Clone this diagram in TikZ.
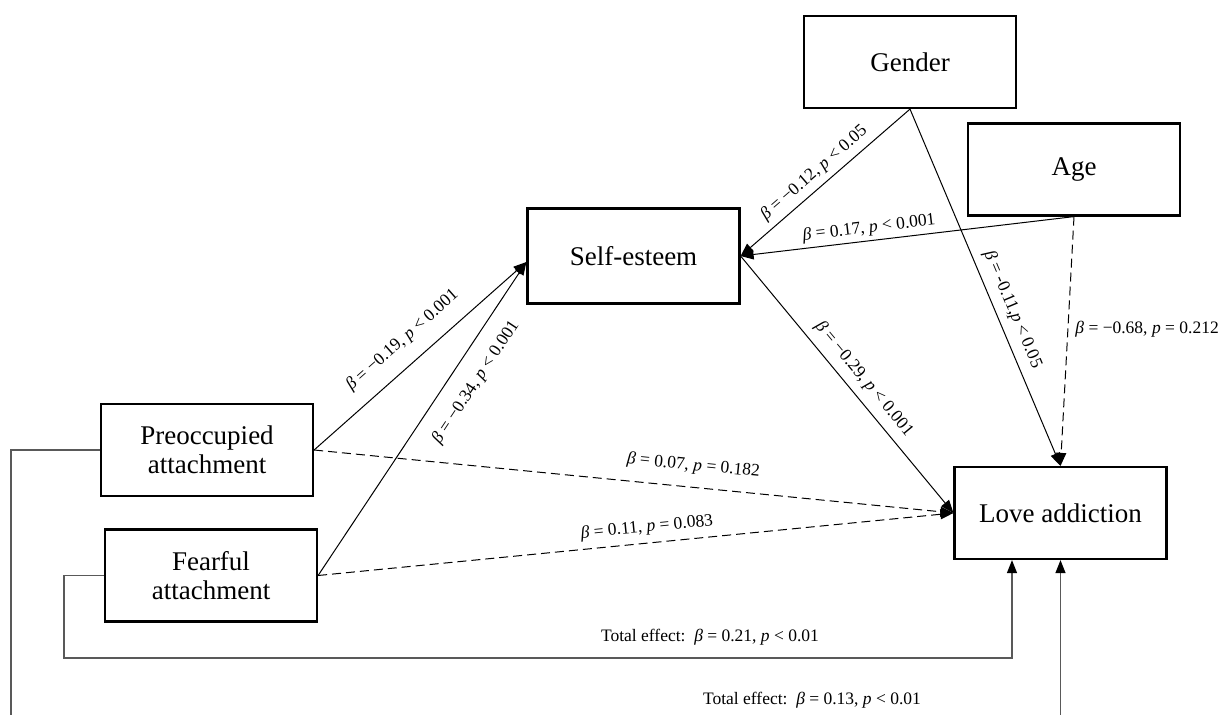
\documentclass[tikz,border=0pt]{standalone}
\usepackage{fontspec}
\setmainfont{Liberation Serif}
\usetikzlibrary{arrows.meta}

\begin{document}
\begin{tikzpicture}[
  x=1pt, y=-1pt,
  box/.style={draw, line width=2.2pt, align=center, minimum width=212pt, minimum height=92pt, inner sep=2pt, font={\fontsize{27}{29}\selectfont}},
  arrow/.style={-{Triangle[length=13pt, width=10pt]}, draw, line width=1pt},
  nsarrow/.style={arrow, dash pattern=on 9pt off 5pt},
  total/.style={-{Triangle[length=13pt, width=10pt, black]}, draw=black!65, line width=1.3pt},
  lbl/.style={font={\fontsize{17.5}{20}\selectfont}, inner xsep=1pt, inner ysep=#1},
  lbl/.default=3pt,
]
\useasboundingbox (0,0) rectangle (1224,715);
\clip (0,0) rectangle (1224,715);

\node[box] (gender) at (910,62) {Gender};
\node[box] (age) at (1074,169.5) {Age};
\node[box, minimum height=95pt] (self) at (633.5,256) {Self-esteem};
\node[box] (preocc) at (207,450) {Preoccupied\\attachment};
\node[box] (fear) at (211,575.5) {Fearful\\attachment};
\node[box] (love) at (1060.5,513) {Love addiction};

\draw[arrow] (preocc.east) -- ([yshift=-6pt]self.west)
  node[lbl=15pt, pos=0.49, sloped, anchor=south] {\textit{β} = −0.19, \textit{p} < 0.001};
\draw[arrow] (fear.east) -- ([yshift=-6pt]self.west)
  node[lbl=16pt, pos=0.66, sloped, anchor=north] {\textit{β} = −0.34, \textit{p} < 0.001};
\draw[arrow] (gender.south) -- (self.east)
  node[lbl=6pt, pos=0.51, sloped, anchor=south] {\textit{β} = −0.12, \textit{p} < 0.05};
\draw[arrow] (age.south) -- (self.east)
  node[lbl=4pt, pos=0.61, sloped, anchor=south] {\textit{β} = 0.17, \textit{p} < 0.001};
\draw[arrow] (self.east) -- (love.west)
  node[lbl=8pt, pos=0.52, sloped, anchor=south] {\textit{β} = −0.29, \textit{p} < 0.001};
\draw[arrow] (gender.south) -- (love.north)
  node[lbl=8pt, pos=0.58, sloped, anchor=south] {\textit{β} = -0.11,\textit{p} < 0.05};
\draw[nsarrow] (age.south) -- (love.north)
  node[lbl, pos=0.45, anchor=west, xshift=6pt] {\textit{β} = −0.68, \textit{p} = 0.212};
\draw[nsarrow] (preocc.east) -- (love.west)
  node[lbl=13pt, pos=0.59, sloped, anchor=south] {\textit{β} = 0.07, \textit{p} = 0.182};
\draw[nsarrow] (fear.east) -- (love.west)
  node[lbl=7pt, pos=0.52, sloped, anchor=south] {\textit{β} = 0.11, \textit{p} = 0.083};

\draw[total] (fear.west) -- ++(-40,0) -- ++(0,82.5) -| ([xshift=-48.5pt]love.south);
\node[lbl] (tot21) at (710,637) {Total effect:\enspace\textit{β} = 0.21, \textit{p} < 0.01};
\draw[total] (preocc.west) -- ++(-89,0) -- ++(0,300) -| (love.south);
\node[lbl] (tot13) at (812,700) {Total effect:\enspace\textit{β} = 0.13, \textit{p} < 0.01};
\end{tikzpicture}
\end{document}
